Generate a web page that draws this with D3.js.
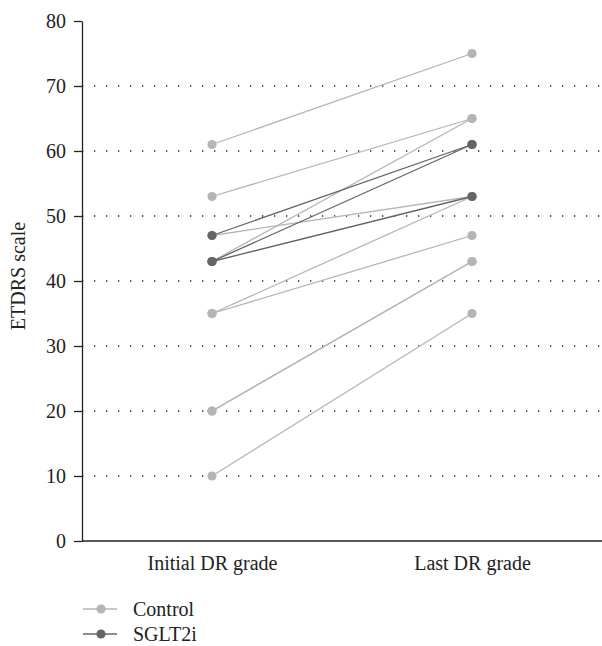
<!DOCTYPE html>
<html><head><meta charset="utf-8">
<script src="https://cdn.jsdelivr.net/npm/d3@7"></script>
<style>body{margin:0;background:#fff;overflow:hidden}svg{display:block}</style>
</head><body>
<script>
const categories = ["Initial DR grade", "Last DR grade"];
const yTicks = [0, 10, 20, 30, 40, 50, 60, 70, 80];
const gridTicks = [10, 20, 30, 40, 50, 60, 70];
const controlInitial = [61, 53, 47, 43, 35, 35, 20, 20, 10];
const controlLast    = [75, 65, 53, 65, 53, 47, 43, 43, 35];
const sglt2iInitial  = [47, 43, 43];
const sglt2iLast     = [61, 61, 53];
const seriesNames = ["Control", "SGLT2i"];
const seriesColors = ["#b5b5b5", "#656565"];

const W = 602, H = 646;
const svg = d3.select("body").append("svg").attr("width", W).attr("height", H);
const font = "'Liberation Serif', 'Times New Roman', serif";
const fs = 20;

const x = d3.scalePoint().domain(categories).range([82, 602]).padding(0.5);
const y = d3.scaleLinear().domain([0, 80]).range([541, 21]);

// grid
svg.append("g").selectAll("line").data(gridTicks).join("line")
  .attr("x1", 83).attr("x2", 602)
  .attr("y1", d => y(d)).attr("y2", d => y(d))
  .attr("stroke", "#222").attr("stroke-width", 1.3)
  .attr("stroke-dasharray", "1.3,10.7").attr("stroke-dashoffset", -11);

// y axis
const ya = svg.append("g").attr("transform", "translate(82,0)")
  .call(d3.axisLeft(y).tickValues(yTicks).tickSize(8).tickPadding(8).tickSizeOuter(0));
ya.select(".domain").attr("stroke", "#222").attr("stroke-width", 1.3);
ya.selectAll(".tick line").attr("stroke", "#222").attr("stroke-width", 1.3);
ya.selectAll("text").attr("font-family", font).attr("font-size", fs).attr("fill", "#222");

// x axis
const xa = svg.append("g").attr("transform", "translate(0,541)")
  .call(d3.axisBottom(x).tickSize(0).tickPadding(15).tickSizeOuter(0));
xa.select(".domain").attr("stroke", "#222").attr("stroke-width", 1.3)
  .attr("d", "M82,0H602");
xa.selectAll("text").attr("font-family", font).attr("font-size", fs).attr("fill", "#222");

svg.append("text").attr("transform", `translate(25,276) rotate(-90)`)
  .attr("text-anchor", "middle").attr("font-family", font).attr("font-size", fs)
  .attr("fill", "#222").text("ETDRS scale");

function drawSeries(ini, last, color) {
  const pairs = ini.map((v, i) => [v, last[i]]);
  const g = svg.append("g");
  g.selectAll("line").data(pairs).join("line")
    .attr("x1", x(categories[0])).attr("x2", x(categories[1]))
    .attr("y1", d => y(d[0])).attr("y2", d => y(d[1]))
    .attr("stroke", color).attr("stroke-width", 1.3);
  const pts = [];
  pairs.forEach(d => { pts.push([categories[0], d[0]]); pts.push([categories[1], d[1]]); });
  g.selectAll("circle").data(pts).join("circle")
    .attr("cx", d => x(d[0])).attr("cy", d => y(d[1])).attr("r", 4.6)
    .attr("fill", color);
}
drawSeries(controlInitial, controlLast, seriesColors[0]);
drawSeries(sglt2iInitial, sglt2iLast, seriesColors[1]);

// legend
const lg = svg.append("g").selectAll("g").data(seriesNames).join("g")
  .attr("transform", (d, i) => `translate(0,${609 + i * 25})`);
lg.append("line").attr("x1", 83).attr("x2", 117).attr("stroke", (d, i) => seriesColors[i]).attr("stroke-width", 1.3);
lg.append("circle").attr("cx", 101).attr("r", 4.6).attr("fill", (d, i) => seriesColors[i]);
lg.append("text").attr("x", 133).attr("y", 6.5).attr("font-family", font).attr("font-size", fs)
  .attr("fill", "#222").text(d => d);
</script>
</body></html>
